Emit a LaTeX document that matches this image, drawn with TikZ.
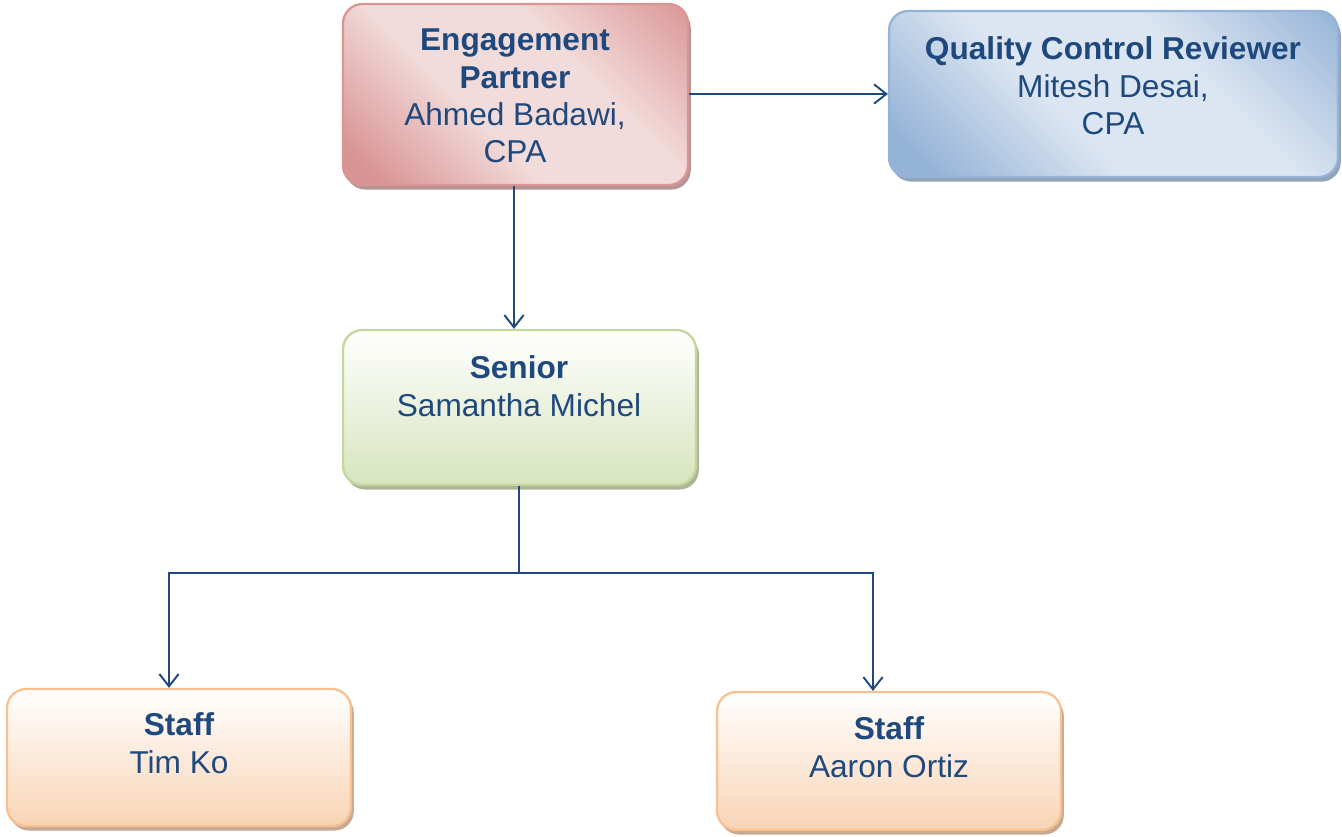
\documentclass[tikz,border=0pt]{standalone}
\usepackage{fontspec}
\setmainfont{Liberation Sans}
\usetikzlibrary{arrows.meta,shadows}
\definecolor{ink}{HTML}{1F497D}
\definecolor{pinkdk}{HTML}{D99594}
\definecolor{pinklt}{HTML}{F2DCDB}
\definecolor{bluedk}{HTML}{95B3D7}
\definecolor{bluelt}{HTML}{DCE6F2}
\definecolor{greenln}{HTML}{C3D69B}
\definecolor{greenlt}{HTML}{D7E4BD}
\definecolor{orangeln}{HTML}{FAC090}
\definecolor{orangelt}{HTML}{F9D4B6}
% diagonal bands for the two top boxes
\pgfdeclareverticalshading{pinkband}{100bp}{color(0bp)=(pinkdk); color(20bp)=(pinkdk); color(42bp)=(pinklt); color(62bp)=(pinklt); color(86bp)=(pinkdk); color(100bp)=(pinkdk)}
\pgfdeclareverticalshading{blueband}{100bp}{color(0bp)=(bluedk); color(20bp)=(bluedk); color(42bp)=(bluelt); color(62bp)=(bluelt); color(86bp)=(bluedk); color(100bp)=(bluedk)}

\begin{document}
\begin{tikzpicture}[x=0.02cm,y=-0.02cm,
  box/.style={line width=1.3pt, rounded corners=11pt},
  txt/.style={align=center, text=ink, font=\fontsize{18}{21.3}\selectfont},
  link/.style={draw=ink, line width=1.1pt},
  arr/.style={link, -{Straight Barb[length=7pt,width=11pt,line width=1.1pt]}}]
  \useasboundingbox (0,0) rectangle (1342,836);
  % boxes
  \node[box, draw=pinkdk, shading=pinkband, shading angle=-45,
        drop shadow={shadow xshift=1.6pt, shadow yshift=-2.6pt, fill=pinkdk!70!black, opacity=0.7},
        minimum width=196.3pt, minimum height=103pt] (ep) at (515.5,94.5) {};
  \node[box, draw=bluedk, shading=blueband, shading angle=-45,
        drop shadow={shadow xshift=1.6pt, shadow yshift=-2.6pt, fill=bluedk!70!black, opacity=0.7},
        minimum width=255.5pt, minimum height=94.5pt] (qcr) at (1113.5,94) {};
  \node[box, draw=greenln, top color=white, bottom color=greenlt,
        drop shadow={shadow xshift=1.6pt, shadow yshift=-2.6pt, fill=greenln!70!black, opacity=0.7},
        minimum width=200.9pt, minimum height=88.2pt] (senior) at (519.5,407.5) {};
  \node[box, draw=orangeln, top color=white, bottom color=orangelt,
        drop shadow={shadow xshift=1.6pt, shadow yshift=-2.6pt, fill=orangeln!70!black, opacity=0.7},
        minimum width=195.8pt, minimum height=78pt] (tim) at (179,757.5) {};
  \node[box, draw=orangeln, top color=white, bottom color=orangelt,
        drop shadow={shadow xshift=1.6pt, shadow yshift=-2.6pt, fill=orangeln!70!black, opacity=0.7},
        minimum width=195.8pt, minimum height=78.5pt] (aaron) at (889,761) {};
  % texts
  \node[txt] (ep-t) at (515,96) {\textbf{Engagement}\\\textbf{Partner}\\Ahmed Badawi,\\CPA};
  \node[txt] (qcr-t) at (1113,86) {\textbf{Quality Control Reviewer}\\Mitesh Desai,\\CPA};
  \node[txt] (senior-t) at (519,386) {\textbf{Senior}\\Samantha Michel};
  \node[txt] (tim-t) at (179,743) {\textbf{Staff}\\Tim Ko};
  \node[txt] (aaron-t) at (889,747) {\textbf{Staff}\\Aaron Ortiz};
  % connectors
  \coordinate (split) at (519,573);
  \coordinate (lt) at (169,573);
  \coordinate (rt) at (873,573);
  \draw[arr] (ep.east |- 0,94) -- (qcr.west |- 0,94);
  \draw[arr] (ep.south -| 514,0) -- (senior.north -| 514,0);
  \draw[link] (senior.south -| split) -- (split);
  \draw[arr] (split) -- (lt) -- (lt |- tim.north);
  \draw[arr] (split) -- (rt) -- (rt |- aaron.north);
\end{tikzpicture}
\end{document}
